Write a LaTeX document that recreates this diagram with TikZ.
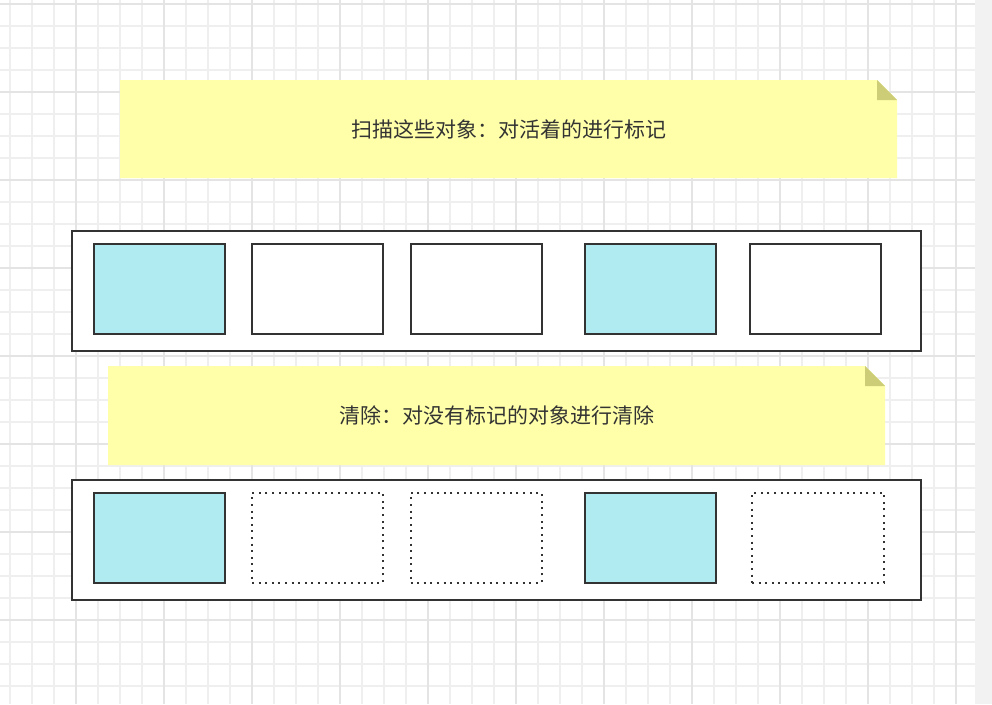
\documentclass[tikz,border=0pt]{standalone}
\usepackage{fontspec}
\newfontfamily\cjk{Noto Sans CJK SC}
\definecolor{livefill}{HTML}{B1EBF2}
\definecolor{notefill}{HTML}{FFFFAA}
\definecolor{foldfill}{HTML}{CDCD78}
\definecolor{inkgray}{HTML}{333333}
\definecolor{minorgrid}{HTML}{EFEFEF}
\definecolor{majorgrid}{HTML}{E4E4E4}
\definecolor{stripgray}{HTML}{F2F2F2}
\begin{document}
\begin{tikzpicture}[x=1pt,y=-1pt,
        heap/.style={draw=inkgray, line width=2pt, fill=white, rectangle, minimum width=849pt, minimum height=120pt},
        obj/.style={draw=inkgray, line width=2pt, rectangle, minimum width=131pt, minimum height=90pt},
        live/.style={obj, fill=livefill},
        dead/.style={obj, fill=white},
        gone/.style={obj, fill=white, line width=2pt, dash pattern=on 2pt off 4.6pt},
        notetext/.style={text=inkgray, font=\cjk\fontsize{21}{25}\selectfont}]
    \useasboundingbox (0,0) rectangle (992,704);
    \fill[white] (0,0) rectangle (992,704);
    % grid paper
    \foreach \gx in {10,32,...,956} \draw[minorgrid, line width=1.2pt] (\gx,0) -- (\gx,704);
    \foreach \gy in {4,26,...,700} \draw[minorgrid, line width=1.2pt] (0,\gy) -- (975,\gy);
    \foreach \gx in {76,164,...,956} \draw[majorgrid, line width=1.2pt] (\gx,0) -- (\gx,704);
    \foreach \gy in {4,92,...,700} \draw[majorgrid, line width=1.2pt] (0,\gy) -- (975,\gy);
    \fill[stripgray] (975,0) rectangle (992,704);

    % mark phase
    \fill[notefill] (120,80) -- (877,80) -- (897,100) -- (897,178) -- (120,178) -- cycle;
    \fill[foldfill] (877,80) -- (877,100) -- (897,100) -- cycle;
    \node (marknote) [notetext] at (508.5,129) {扫描这些对象：对活着的进行标记};

    \node (markheap) [heap] at (496.5,291) {};
    \node (m1) [live] at (159.5,289) {};
    \node (m2) [dead] at (317.5,289) {};
    \node (m3) [dead] at (476,289) {};
    \node (m4) [live] at (650,289) {};
    \node (m5) [dead] at (815,289) {};

    % sweep phase
    \fill[notefill] (108,366) -- (865,366) -- (885,386) -- (885,465) -- (108,465) -- cycle;
    \fill[foldfill] (865,366) -- (865,386) -- (885,386) -- cycle;
    \node (sweepnote) [notetext] at (496.5,415) {清除：对没有标记的对象进行清除};

    \node (sweepheap) [heap] at (496.5,540) {};
    \node (s1) [live] at (159.5,538) {};
    \node (s2) [gone] at (317.5,538) {};
    \node (s3) [gone] at (476,538) {};
    \node (s4) [live] at (650,538) {};
    \node (s5) [gone, minimum width=132pt] at (818,538) {};
\end{tikzpicture}
\end{document}
